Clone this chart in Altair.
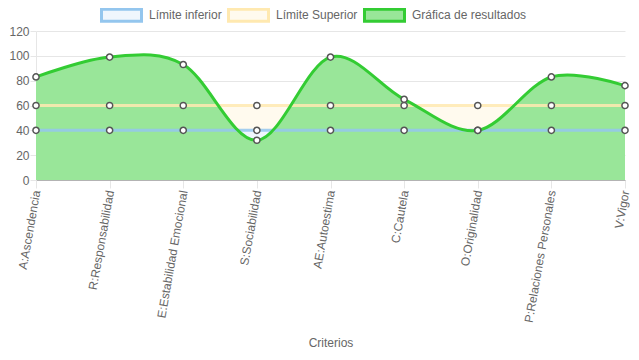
import altair as alt
import pandas as pd

categorias = ["A:Ascendencia", "R:Responsabilidad", "E:Estabilidad Emocional",
              "S:Sociabilidad", "AE:Autoestima", "C:Cautela", "O:Originalidad",
              "P:Relaciones Personales", "V:Vigor"]
limite_inferior = [40, 40, 40, 40, 40, 40, 40, 40, 40]
limite_superior = [60, 60, 60, 60, 60, 60, 60, 60, 60]
resultados = [83, 99, 93, 32, 99, 65, 40, 83, 76]

series = ["Límite inferior", "Límite Superior", "Gráfica de resultados"]
fill_colors = ["#eff6fd", "#fffaee", "#99e699"]
stroke_colors = ["#94c6ee", "#ffe9b0", "#33cc33"]

rows = []
for name, vals in zip(series, [limite_inferior, limite_superior, resultados]):
    for c, v in zip(categorias, vals):
        rows.append({"cat": c, "serie": name, "valor": v})
df = pd.DataFrame(rows)

FONT = "Liberation Sans"

x = alt.X("cat:N", sort=categorias,
          scale=alt.Scale(type="point", padding=0),
          axis=alt.Axis(title="Criterios", labelAngle=-80, labelAlign="right",
                        labelBaseline="middle", labelPadding=2, tickSize=8,
                        labelOverlap=False, labelBound=False, labelLimit=0,
                        domainColor="#b3b3b3", titleY=162, titleBaseline="middle"))
y = alt.Y("valor:Q", stack=None,
          scale=alt.Scale(domain=[0, 120], nice=False),
          axis=alt.Axis(title=None, values=[0, 20, 40, 60, 80, 100, 120],
                        tickSize=6, labelPadding=1, domainColor="#e6e6e6"))

fill_scale = alt.Scale(domain=series, range=fill_colors)
stroke_scale = alt.Scale(domain=series, range=stroke_colors)
legend = alt.Legend(title=None, orient="none", legendX=64, legendY=-37.5,
                    direction="horizontal",
                    symbolType="M-1,-0.3H1V0.3H-1Z", symbolSize=1600,
                    symbolStrokeWidth=3, labelOffset=6, columnPadding=0,
                    labelFont=FONT, labelFontSize=12, labelColor="#666666")
fill = alt.Fill("serie:N", scale=fill_scale, legend=legend)
stroke = alt.Stroke("serie:N", scale=stroke_scale, legend=legend)

base = alt.Chart(df)

area_sup = base.transform_filter(alt.datum.serie == "Límite Superior").mark_area(
    opacity=1).encode(x=x, y=y, fill=fill)
area_inf = base.transform_filter(alt.datum.serie == "Límite inferior").mark_area(
    opacity=1).encode(x=x, y=y, fill=fill)
area_res = base.transform_filter(alt.datum.serie == "Gráfica de resultados").mark_area(
    interpolate="cardinal", tension=0, opacity=1).encode(x=x, y=y, fill=fill)

line_lim = base.transform_filter(alt.datum.serie != "Gráfica de resultados").mark_line(
    strokeWidth=3, strokeOpacity=0.85).encode(x=x, y=y, stroke=stroke, detail="serie:N")
line_res = base.transform_filter(alt.datum.serie == "Gráfica de resultados").mark_line(
    strokeWidth=3, interpolate="cardinal", tension=0).encode(x=x, y=y, stroke=stroke)

points = base.mark_point(filled=True, fill="white", stroke="#555555",
                         strokeWidth=1.5, size=38, opacity=1).encode(x=x, y=y)

chart = alt.layer(area_sup, area_inf, area_res, line_lim, line_res, points).properties(
    width=589, height=149,
    autosize=alt.AutoSizeParams(type="none"),
    padding={"left": 28, "top": 23, "right": 6, "bottom": 170},
).configure_view(strokeWidth=0).configure_axis(
    labelFont=FONT, labelFontSize=12, labelColor="#666666",
    titleFont=FONT, titleFontSize=12, titleColor="#666666", titleFontWeight="normal",
    gridColor="#e6e6e6", tickColor="#e6e6e6",
)

chart.save("out.html", embed_options={"renderer": "svg", "actions": False})
